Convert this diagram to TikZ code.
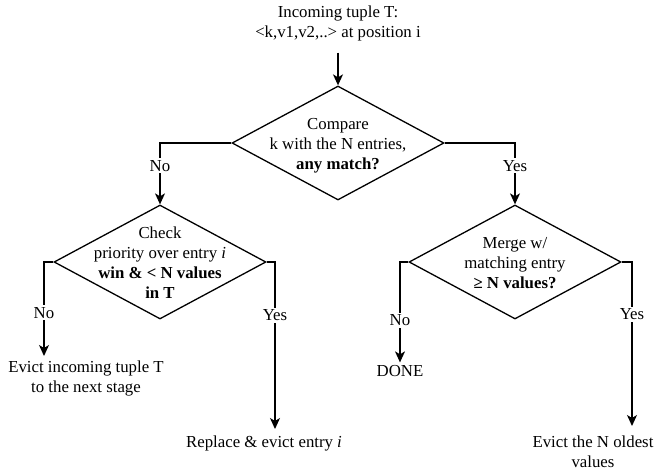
\documentclass[tikz,border=0pt]{standalone}
\usepackage{fontspec}
\setmainfont{Liberation Serif}
\usetikzlibrary{shapes.geometric,arrows.meta}
\begin{document}
\begin{tikzpicture}[x=1pt,y=-1pt, font=\fontsize{16.8}{20}\selectfont, line width=1.3pt,
 dec/.style={diamond, draw, minimum width=212pt, minimum height=114pt, inner sep=0pt},
 txt/.style={align=center, inner sep=0pt, outer sep=3pt},
 arr/.style={-{Stealth[length=11pt,width=10pt,inset=3pt]}},
 lbl/.style={fill=white, inner sep=2pt, font=\fontsize{16.8}{20}\selectfont}]
\useasboundingbox (0,0) rectangle (654,472);

\node[txt] (in) at (338,23) {Incoming tuple T:\\<k,v1,v2,..> at position i};

\node[dec] (d1) at (338,143) {};
\node[txt] (t1) at (338,146) {Compare\\k with the N entries,\\\textbf{any match?}};

\node[dec] (d2) at (160,262) {};
\node[txt] (t2) at (160,263) {Check\\priority over entry \textit{i}\\\textbf{win \& < N values}\\\textbf{in T}};

\node[dec] (d3) at (515,262) {};
\node[txt] (t3) at (515,263) {Merge w/\\matching entry\\\textbf{≥ N values?}};

\node[txt] (e1) at (86,378) {Evict incoming tuple T\\to the next stage};
\node[txt] (r1) at (264,443) {Replace \& evict entry \textit{i}};
\node[txt] (done) at (400,371) {DONE};
\node[txt] (e2) at (593,452) {Evict the N oldest\\values};

\coordinate (c1) at (44,356);
\coordinate (c2) at (632,426);
\coordinate (c3) at (275,429);

\draw[arr] ([yshift=-9pt]in.south) -- (d1.north);
\draw[arr] (d1.west) -| node[lbl, pos=0.685] {No} (d2.north);
\draw[arr] (d1.east) -| node[lbl, pos=0.685] {Yes} (d3.north);
\draw[arr] (d2.west) -| node[lbl, pos=0.77] {No} (c1);
\draw[arr] (d2.east) -| node[lbl, pos=0.66] {Yes} (c3);
\draw[arr] (d3.west) -| node[lbl, pos=0.79] {No} (done.north);
\draw[arr] (d3.east) -| node[lbl, pos=0.66] {Yes} (c2);
\end{tikzpicture}
\end{document}
